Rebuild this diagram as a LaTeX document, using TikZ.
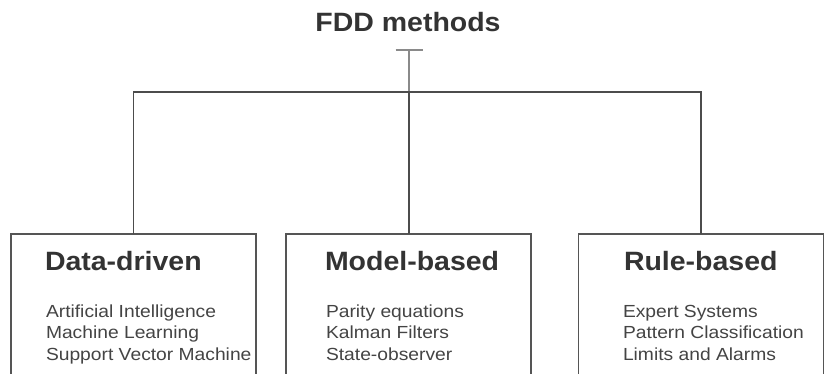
\documentclass[tikz,border=0pt]{standalone}
\usepackage{fontspec}
\setmainfont{Liberation Sans}
\newfontfamily\headfont[FakeStretch=1.075]{Liberation Sans}
\newfontfamily\listfont[FakeStretch=1.1]{Liberation Sans}
\definecolor{ink}{HTML}{333333}
\definecolor{listink}{HTML}{444444}
\definecolor{frame}{HTML}{555555}
\definecolor{stem}{HTML}{8A8A8A}
\tikzset{
  every node/.style={inner sep=0pt, outer sep=0pt},
  title/.style={font=\headfont\bfseries\fontsize{26.5}{30}\selectfont, text=ink, anchor=base west},
  entry/.style={font=\listfont\fontsize{17.5}{21}\selectfont, text=listink, anchor=base west},
  catbox/.style={draw=frame, line width=1.5pt, rectangle, anchor=north west,
                 minimum width=245pt, minimum height=200pt},
  wire/.style={draw=frame!90!black, line width=1.5pt},
  stemline/.style={draw=stem, line width=2pt}
}
\begin{document}
\begin{tikzpicture}[x=1pt,y=-1pt]
  \clip (0,0) rectangle (827,374);
  \fill[white] (0,0) rectangle (827,374);

  % root label and its T-shaped stem
  \node[title, anchor=base] (root) at (408,32) {FDD methods};
  \coordinate (barL) at (395.5,50.5);
  \coordinate (barR) at (423,50.5);
  \coordinate (stemtop) at (409,50.5);
  \coordinate (junction) at (409,92);
  \draw[stemline] (barL) -- (barR);
  \draw[stemline] (stemtop) -- (junction);

  % the three category boxes (open towards the bottom edge)
  \node[catbox] (dd) at (11,234) {};
  \node[catbox] (mb) at (286,234) {};
  \node[catbox] (rb) at (578.5,234) {};

  % distribution line
  \coordinate (ddtop) at (133.5,234);
  \coordinate (mbtop) at (409,234);
  \coordinate (rbtop) at (701,234);
  \draw[wire] (ddtop) -- (133.5,92) -- (701,92) -- (rbtop);
  \draw[wire] (junction) -- (mbtop);

  % Data-driven
  \node[title] (ddt) at (45,270) {Data-driven};
  \node[entry] (dd1) at (46,317) {Artificial Intelligence};
  \node[entry] (dd2) at (46,338.5) {Machine Learning};
  \node[entry] (dd3) at (46,360) {Support Vector Machine};

  % Model-based
  \node[title] (mbt) at (325,270) {Model-based};
  \node[entry] (mb1) at (326,317) {Parity equations};
  \node[entry] (mb2) at (326,338.5) {Kalman Filters};
  \node[entry] (mb3) at (326,360) {State-observer};

  % Rule-based
  \node[title] (rbt) at (624,270) {Rule-based};
  \node[entry] (rb1) at (623,317) {Expert Systems};
  \node[entry] (rb2) at (623,338.5) {Pattern Classification};
  \node[entry] (rb3) at (623,360) {Limits and Alarms};
\end{tikzpicture}
\end{document}
